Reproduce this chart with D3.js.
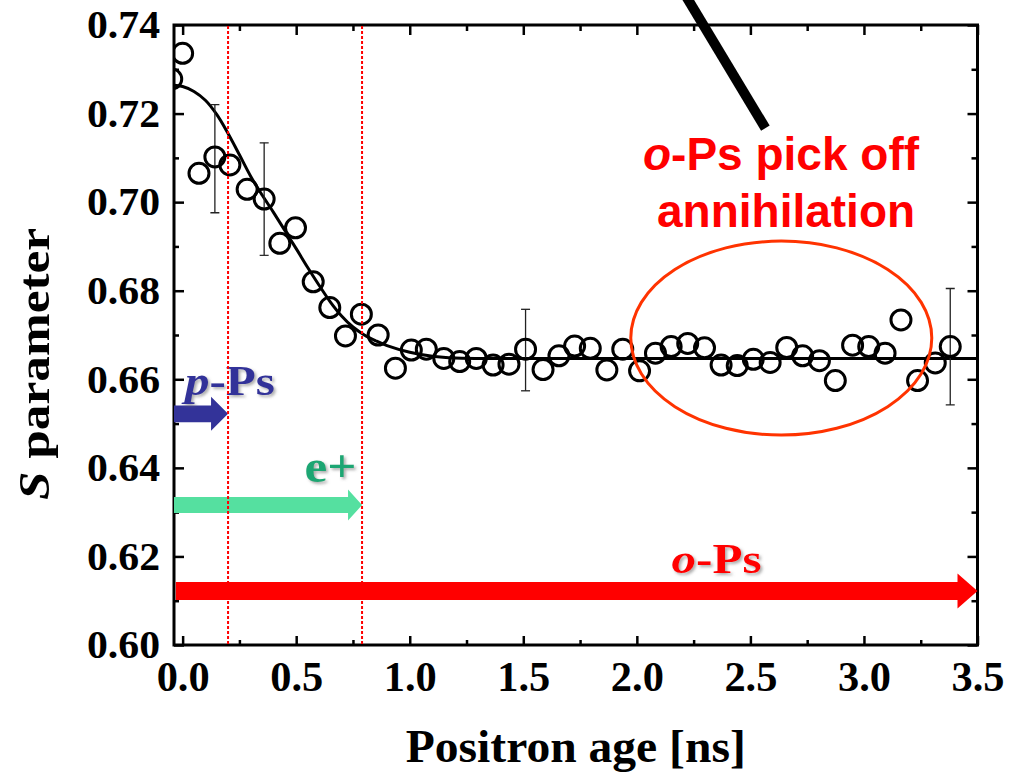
<!DOCTYPE html>
<html><head><meta charset="utf-8">
<script src="https://cdn.jsdelivr.net/npm/d3@7"></script>
<style>body{margin:0;background:#fff}svg{display:block}</style>
</head><body>
<svg id="c" width="1021" height="774"></svg>
<script>
// ---- data ----
const ages = [-0.048, 0.000, 0.072, 0.142, 0.208, 0.284, 0.359, 0.428, 0.497, 0.575, 0.648, 0.717, 0.787, 0.861, 0.937, 1.007, 1.073, 1.150, 1.220, 1.293, 1.367, 1.437, 1.510, 1.587, 1.657, 1.726, 1.795, 1.868, 1.938, 2.012, 2.082, 2.151, 2.224, 2.298, 2.371, 2.442, 2.513, 2.587, 2.660, 2.730, 2.804, 2.874, 2.950, 3.021, 3.093, 3.163, 3.236, 3.314, 3.380];
const sValues = [0.7278, 0.7336, 0.7065, 0.7102, 0.7084, 0.7029, 0.7007, 0.6907, 0.6942, 0.6820, 0.6762, 0.6698, 0.6747, 0.6700, 0.6625, 0.6666, 0.6668, 0.6647, 0.6640, 0.6647, 0.6632, 0.6634, 0.6668, 0.6622, 0.6653, 0.6675, 0.6670, 0.6621, 0.6668, 0.6619, 0.6659, 0.6674, 0.6681, 0.6671, 0.6632, 0.6631, 0.6645, 0.6638, 0.6672, 0.6653, 0.6642, 0.6597, 0.6677, 0.6674, 0.6659, 0.6734, 0.6597, 0.6637, 0.6674];
const errAges = [0.142, 0.359, 1.510, 3.380];
const errLow  = [0.6976, 0.6880, 0.6574, 0.6542];
const errHigh = [0.7220, 0.7134, 0.6758, 0.6805];
const fitAges = [-0.04, 0.0, 0.05, 0.1, 0.15, 0.2, 0.25, 0.3, 0.35, 0.4, 0.45, 0.5, 0.55, 0.6, 0.65, 0.7, 0.75, 0.8, 0.85, 0.9, 1.0, 1.1, 1.2, 1.5, 2.0, 3.5];
const fitS    = [0.7264, 0.7261, 0.7250, 0.7230, 0.7198, 0.7155, 0.7107, 0.7058, 0.7016, 0.6977, 0.6936, 0.6895, 0.6853, 0.6813, 0.6775, 0.6743, 0.6718, 0.6700, 0.6687, 0.6676, 0.6661, 0.6652, 0.6648, 0.6647, 0.6647, 0.6647];
const xTickValues = [0, 0.5, 1.0, 1.5, 2.0, 2.5, 3.0, 3.5];
const xMinorTicks = [0.25, 0.75, 1.25, 1.75, 2.25, 2.75, 3.25];
const yTickValues = [0.60, 0.62, 0.64, 0.66, 0.68, 0.70, 0.72, 0.74];
const yMinorTicks = [0.61, 0.63, 0.65, 0.67, 0.69, 0.71, 0.73];
const regionLines = [0.2, 0.79];
const arrowNames = ["pPs", "e", "oPs"];
const arrowStarts = [-0.038, -0.038, -0.03];
const arrowEnds = [0.2, 0.79, 3.5];
const arrowLevels = [0.6522, 0.6316, 0.6122];
const arrowColors = ["#333399", "#55e0a0", "#ff0000"];

// ---- layout ----
const svg = d3.select("#c");
const L = 174, R = 977.5, T = 25, B = 645;
const x = d3.scaleLinear().domain([-0.038, 3.5]).range([L, R]);
const y = d3.scaleLinear().domain([0.60, 0.74]).range([B, T]);
const serif = "'Liberation Serif','Times New Roman',serif";
const sans = "'Liberation Sans',Arial,sans-serif";

const defs = svg.append("defs");
defs.append("clipPath").attr("id", "plot").append("rect")
  .attr("x", L).attr("y", T).attr("width", R - L).attr("height", B - T);
const f = defs.append("filter").attr("id", "sh").attr("x", "-20%").attr("y", "-20%").attr("width", "150%").attr("height", "150%");
f.append("feDropShadow").attr("dx", 2).attr("dy", 2).attr("stdDeviation", 1.5)
  .attr("flood-color", "#666").attr("flood-opacity", 0.55);

// axes
function styleAxis(g) {
  g.select(".domain").remove();
  g.selectAll(".tick line").attr("stroke", "#000").attr("stroke-width", 2.5);
}
svg.append("g").attr("transform", `translate(0,${B})`)
  .call(d3.axisBottom(x).tickValues(xTickValues).tickSize(-9).tickPadding(15).tickFormat(d3.format(".1f")))
  .call(styleAxis)
  .call(g => g.selectAll("text").attr("font-family", serif).attr("font-weight", "bold").attr("font-size", 43).attr("fill", "#000")
    .attr("textLength", 53).attr("lengthAdjust", "spacingAndGlyphs"));
svg.append("g").attr("transform", `translate(0,${B})`)
  .call(d3.axisBottom(x).tickValues(xMinorTicks).tickSize(-5).tickFormat("")).call(styleAxis);
svg.append("g").attr("transform", `translate(0,${T})`)
  .call(d3.axisTop(x).tickValues(xTickValues).tickSize(-10).tickFormat("")).call(styleAxis);
svg.append("g").attr("transform", `translate(0,${T})`)
  .call(d3.axisTop(x).tickValues(xMinorTicks).tickSize(-6).tickFormat("")).call(styleAxis);
svg.append("g").attr("transform", `translate(${L},0)`)
  .call(d3.axisLeft(y).tickValues(yTickValues).tickSize(-10).tickPadding(14).tickFormat(d3.format(".2f")))
  .call(styleAxis)
  .call(g => g.selectAll("text").attr("font-family", serif).attr("font-weight", "bold").attr("font-size", 40).attr("fill", "#000")
    .attr("textLength", 73).attr("lengthAdjust", "spacingAndGlyphs"));
svg.append("g").attr("transform", `translate(${L},0)`)
  .call(d3.axisLeft(y).tickValues(yMinorTicks).tickSize(-5).tickFormat("")).call(styleAxis);
svg.append("g").attr("transform", `translate(${R},0)`)
  .call(d3.axisRight(y).tickValues(yTickValues).tickSize(-10).tickFormat("")).call(styleAxis);
svg.append("g").attr("transform", `translate(${R},0)`)
  .call(d3.axisRight(y).tickValues(yMinorTicks).tickSize(-6).tickFormat("")).call(styleAxis);

svg.append("rect").attr("x", L).attr("y", T).attr("width", R - L).attr("height", B - T)
  .attr("fill", "none").attr("stroke", "#000").attr("stroke-width", 3);

// axis titles
svg.append("text").attr("x", (L + R) / 2).attr("y", 762).attr("text-anchor", "middle")
  .attr("font-family", serif).attr("font-weight", "bold").attr("font-size", 46)
  .attr("textLength", 340).attr("lengthAdjust", "spacingAndGlyphs").text("Positron age [ns]");
const yl = svg.append("text").attr("transform", "translate(49,364) rotate(-90)").attr("text-anchor", "middle")
  .attr("font-family", serif).attr("font-weight", "bold").attr("font-size", 45)
  .attr("textLength", 272).attr("lengthAdjust", "spacingAndGlyphs");
yl.append("tspan").attr("font-style", "italic").text("S");
yl.append("tspan").text(" parameter");

// arrows
const heads = [[17, 8.3, 17], [14, 8, 15.5], [20, 9, 17.5]];
arrowNames.forEach((n, i) => {
  const x0 = x(arrowStarts[i]), x1 = x(arrowEnds[i]), yc = y(arrowLevels[i]);
  const [hl, sh, hh] = heads[i];
  const p = d3.path();
  p.moveTo(x0, yc - sh); p.lineTo(x1 - hl, yc - sh); p.lineTo(x1 - hl, yc - hh); p.lineTo(x1, yc);
  p.lineTo(x1 - hl, yc + hh); p.lineTo(x1 - hl, yc + sh); p.lineTo(x0, yc + sh); p.closePath();
  svg.append("path").attr("d", p.toString()).attr("fill", arrowColors[i]);
});

// arrow labels
function label(tx, ty, w, size, color, parts) {
  const t = svg.append("text").attr("x", tx).attr("y", ty)
    .attr("font-family", serif).attr("font-weight", "bold").attr("font-size", size)
    .attr("fill", color).attr("filter", "url(#sh)")
    .attr("textLength", w).attr("lengthAdjust", "spacingAndGlyphs");
  parts.forEach(([s, it]) => t.append("tspan").attr("font-style", it ? "italic" : "normal").text(s));
}
label(x(0.01), y(0.6564), 90, 42, "#333399", [["p", true], ["-Ps", false]]);
label(x(0.537), y(0.6368), 52, 47, "#1fa673", [["e+", false]]);
label(x(2.153), y(0.6163), 90, 42, "#ff0000", [["o", true], ["-Ps", false]]);

// fit curve
const plot = svg.append("g").attr("clip-path", "url(#plot)");
plot.append("path").datum(fitAges.map((a, i) => [a, fitS[i]]))
  .attr("d", d3.line().x(d => x(d[0])).y(d => y(d[1])).curve(d3.curveCatmullRom))
  .attr("fill", "none").attr("stroke", "#000").attr("stroke-width", 3);

// error bars
errAges.forEach((a, i) => {
  const g = plot.append("g").attr("stroke", "#222").attr("stroke-width", 1.3);
  g.append("line").attr("x1", x(a)).attr("x2", x(a)).attr("y1", y(errLow[i])).attr("y2", y(errHigh[i]));
  [errLow[i], errHigh[i]].forEach(v => g.append("line").attr("x1", x(a) - 4.5).attr("x2", x(a) + 4.5).attr("y1", y(v)).attr("y2", y(v)));
});

// points
plot.selectAll("circle.pt").data(ages.map((a, i) => [a, sValues[i]])).join("circle")
  .attr("class", "pt").attr("cx", d => x(d[0])).attr("cy", d => y(d[1])).attr("r", 10)
  .attr("fill", "none").attr("stroke", "#000").attr("stroke-width", 3);

// region boundary dotted lines
svg.selectAll("line.reg").data(regionLines).join("line").attr("class", "reg")
  .attr("x1", d => x(d)).attr("x2", d => x(d)).attr("y1", T + 1).attr("y2", B - 1)
  .attr("stroke", "#ff0000").attr("stroke-width", 2).attr("stroke-dasharray", "3,2");

// pick-off annotation
svg.append("ellipse").attr("cx", x(2.636)).attr("cy", y(0.6693)).attr("rx", 150.5).attr("ry", 97)
  .attr("fill", "none").attr("stroke", "#ff3300").attr("stroke-width", 3);
svg.append("line").attr("x1", x(2.213)).attr("y1", y(0.7468)).attr("x2", x(2.566)).attr("y2", y(0.7167))
  .attr("stroke", "#000").attr("stroke-width", 10);
const a1 = svg.append("text").attr("x", 643).attr("y", 170).attr("font-family", sans).attr("font-weight", "bold")
  .attr("font-size", 46).attr("fill", "#ff0000");
a1.append("tspan").attr("font-style", "italic").text("o");
a1.append("tspan").text("-Ps pick off");
svg.append("text").attr("x", 657).attr("y", 227).attr("font-family", sans).attr("font-weight", "bold")
  .attr("font-size", 46).attr("fill", "#ff0000").text("annihilation");
</script>
</body></html>
